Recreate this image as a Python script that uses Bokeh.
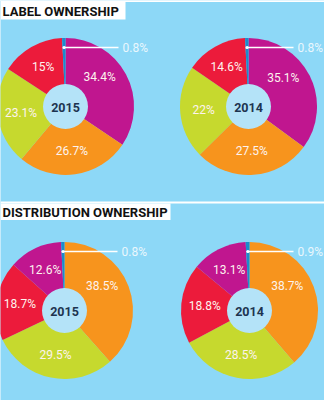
import math
from bokeh.plotting import figure
from bokeh.models import Range1d, ColumnDataSource
from bokeh.core.properties import value
from bokeh.embed import file_html
from bokeh.resources import INLINE

# ---- data ----
sections = ["LABEL OWNERSHIP", "DISTRIBUTION OWNERSHIP"]
years = ["2015", "2014"]
label_values_2015 = [34.4, 26.7, 23.1, 15.0, 0.8]
label_values_2014 = [35.1, 27.5, 22.0, 14.6, 0.8]
label_colors = ["#c0168f", "#f7941d", "#c6d92e", "#ec1b3b", "#1b8ccc"]
dist_values_2015 = [38.5, 29.5, 18.7, 12.6, 0.8]
dist_values_2014 = [38.7, 28.5, 18.8, 13.1, 0.9]
dist_colors = ["#f7941d", "#c6d92e", "#ec1b3b", "#c0168f", "#1b8ccc"]
value_labels_l15 = ["34.4%", "26.7%", "23.1%", "15%", "0.8%"]
value_labels_l14 = ["35.1%", "27.5%", "22%", "14.6%", "0.8%"]
value_labels_d15 = ["38.5%", "29.5%", "18.7%", "12.6%", "0.8%"]
value_labels_d14 = ["38.7%", "28.5%", "18.8%", "13.1%", "0.9%"]

W, H = 324, 400
BG = "#8dd8f7"
HOLE = "#b4e3f8"
FONT = "Roboto"

p = figure(width=W, height=H, output_backend="svg", toolbar_location=None,
           x_range=Range1d(0, W), y_range=Range1d(0, H), min_border=0)
p.axis.visible = False
p.grid.visible = False
p.outline_line_color = None
p.background_fill_color = BG
p.border_fill_color = BG

def Y(y):
    return H - y

# divider lines and title boxes
p.segment(x0=[0, 0], y0=[Y(0.5), Y(202)], x1=[W, W], y1=[Y(0.5), Y(202)],
          line_color="white", line_width=2)
p.quad(left=[0, 0], right=[125, 170], top=[Y(1.5), Y(203)], bottom=[Y(19), Y(219.5)],
       fill_color="white", line_color=None)
p.text(x=[2, 2], y=[Y(10.5), Y(211.5)], text=sections, text_font=value("Roboto"),
       text_font_style="bold", text_font_size="13px", text_color="#111111",
       text_baseline="middle", text_align="left")

R = 68.5
r_hole = 22.5

def donut(cx, cy, vals, colors, labels, year):
    total = sum(vals)
    cum = 0.0
    starts, ends, lx, ly = [], [], [], []
    for i, v in enumerate(vals):
        f0 = cum / total
        cum += v
        f1 = cum / total
        starts.append(math.pi / 2 - 2 * math.pi * f0)
        ends.append(math.pi / 2 - 2 * math.pi * f1)
        fm = (f0 + f1) / 2
        if i == 0:
            fm -= 0.035  # first label sits a little toward the top
        lx.append(cx + 45 * math.sin(2 * math.pi * fm))
        ly.append(Y(cy) + 45 * math.cos(2 * math.pi * fm))
    src = ColumnDataSource(dict(x=[cx] * len(vals), y=[Y(cy)] * len(vals),
                                s=starts, e=ends, c=colors))
    p.annular_wedge(x="x", y="y", inner_radius=0, outer_radius=R,
                    start_angle="s", end_angle="e", direction="clock",
                    fill_color="c", line_color=None, source=src)
    p.circle(x=[cx], y=[Y(cy)], radius=r_hole, fill_color=HOLE, line_color=None)
    p.text(x=[cx], y=[Y(cy) - 1], text=[year], text_font=value(FONT),
           text_font_style="bold", text_font_size="12.5px", text_color="#1d3450",
           text_align="center", text_baseline="middle")
    # big labels (all but the tiny last slice)
    p.text(x=lx[:-1], y=ly[:-1], text=labels[:-1], text_font=value(FONT),
           text_font_size="12px", text_color="#fdf3ee",
           text_align="center", text_baseline="middle")
    # leader for the tiny slice
    f_small = 1 - (vals[-1] / total) / 2
    dx = cx + 59 * math.sin(2 * math.pi * f_small)
    dy = Y(cy) + 59 * math.cos(2 * math.pi * f_small)
    tx = min(cx + 57, W - 27)
    p.segment(x0=[dx], y0=[dy], x1=[tx - 4], y1=[dy], line_color="white", line_width=1.5)
    p.circle(x=[dx], y=[dy], radius=1.6, fill_color="white", line_color=None)
    p.text(x=[tx], y=[dy], text=[labels[-1]], text_font=value(FONT),
           text_font_size="12px", text_color="#eaf7fd",
           text_align="left", text_baseline="middle")

donut(65, 106, label_values_2015, label_colors, value_labels_l15, years[0])
donut(248, 106, label_values_2014, label_colors, value_labels_l14, years[1])
donut(64, 310, dist_values_2015, dist_colors, value_labels_d15, years[0])
donut(249, 310, dist_values_2014, dist_colors, value_labels_d14, years[1])

open("out.html", "w").write(file_html(p, INLINE))
